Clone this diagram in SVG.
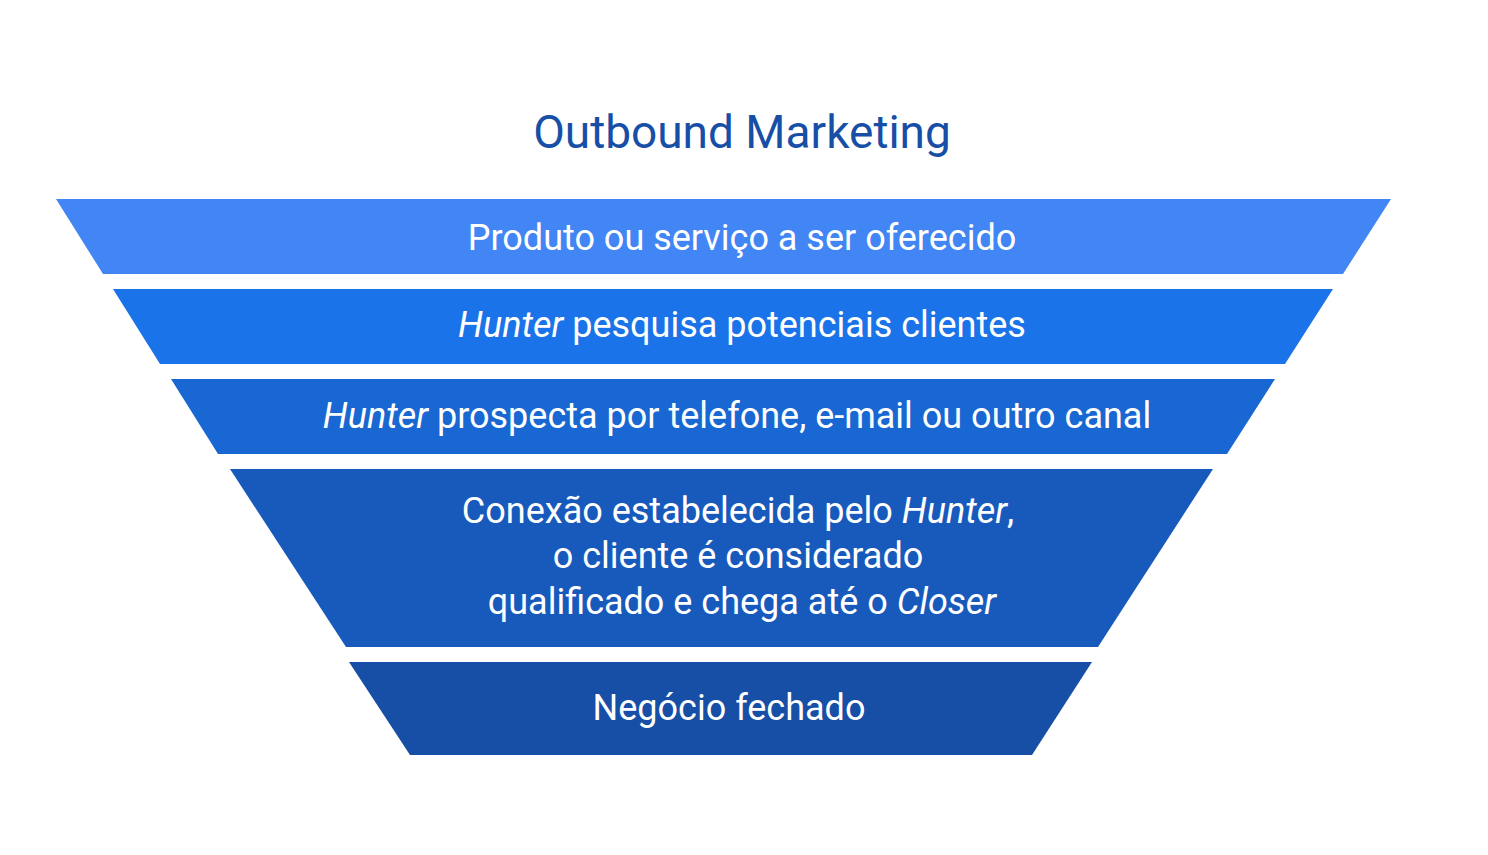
<svg xmlns="http://www.w3.org/2000/svg" width="1488" height="855" viewBox="0 0 1488 855">
<style>
text{font-family:Roboto,"Liberation Sans",sans-serif;text-anchor:middle;fill:#fff;font-size:36px}
.t{fill:#174ea6;font-size:46px}
.i{font-style:italic}
</style>
<rect width="1488" height="855" fill="#fff"/>
<text class="t" x="742" y="148">Outbound Marketing</text>
<g id="n1"><polygon points="56,199 1391,199 1343,274 103,274" fill="#4285f4"/><text x="742" y="250">Produto ou serviço a ser oferecido</text></g>
<g id="n2"><polygon points="113,289 1333,289 1285,364 160,364" fill="#1a73e8"/><text x="742" y="337"><tspan class="i">Hunter</tspan> pesquisa potenciais clientes</text></g>
<g id="n3"><polygon points="171,379 1275,379 1227,454 218,454" fill="#1967d2"/><text x="737" y="428"><tspan class="i">Hunter</tspan> prospecta por telefone, e-mail ou outro canal</text></g>
<g id="n4"><polygon points="230,469 1213,469 1098,647 346,647" fill="#185abc"/><text x="738" y="523">Conexão estabelecida pelo <tspan class="i">Hunter</tspan>,</text><text x="738" y="568">o cliente é considerado</text><text x="742" y="614">qualificado e chega até o <tspan class="i">Closer</tspan></text></g>
<g id="n5"><polygon points="349,662 1092,662 1032,755 410,755" fill="#174ea6"/><text x="729" y="720">Negócio fechado</text></g>
<g id="connectors"/>
</svg>
